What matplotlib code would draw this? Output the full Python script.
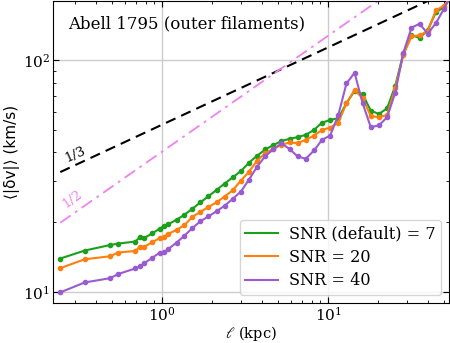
import numpy as np
import matplotlib
matplotlib.use("Agg")
import matplotlib.pyplot as plt
from matplotlib.lines import Line2D

plt.rcParams['font.family'] = ['DejaVu Serif']
plt.rcParams['mathtext.fontset'] = 'dejavuserif'

# scale (kpc)
ell = [0.2439, 0.3422, 0.4881, 0.5431, 0.6906, 0.7339, 0.7757, 0.8740, 0.9686, 1.028,
       1.087, 1.223, 1.362, 1.522, 1.701, 1.903, 2.130, 2.383, 2.667, 2.988,
       3.343, 3.741, 4.185, 4.690, 5.247, 5.870, 6.569, 7.349, 8.235, 9.215,
       10.31, 11.54, 12.92, 14.46, 16.18, 18.10, 20.29, 22.70, 25.40, 28.42,
       31.84, 35.63, 39.86, 44.67, 49.98, 55.93]

snr7 = [13.95, 15.10, 15.96, 16.18, 16.51, 17.22, 17.05, 17.92, 18.77, 19.25,
        19.58, 20.51, 21.51, 22.87, 24.34, 25.90, 27.56, 29.37, 31.24, 33.25,
        36.14, 38.73, 41.21, 43.05, 44.83, 45.81, 46.59, 47.66, 50.07, 53.81,
        55.27, 56.21, 65.20, 73.84, 71.26, 60.59, 58.64, 62.04, 77.35, 106.9,
        128.0, 125.1, 134.5, 161.2, 169.3, 190.0]

snr20 = [12.68, 13.85, 14.27, 14.81, 15.04, 15.65, 15.65, 16.39, 17.10, 17.34,
         17.79, 18.55, 19.39, 21.09, 22.16, 23.28, 24.38, 25.82, 27.49, 30.25,
         33.05, 36.86, 39.70, 41.50, 43.18, 44.18, 43.91, 45.37, 47.33, 50.07,
         51.22, 53.81, 65.20, 74.35, 68.48, 57.50, 56.76, 58.06, 75.60, 105.1,
         126.8, 128.0, 133.6, 163.9, 172.2, 190.0]

snr40 = [9.97, 11.00, 11.48, 11.95, 12.64, 12.89, 13.28, 14.04, 14.81, 14.85,
         15.30, 16.34, 17.48, 18.86, 20.17, 21.20, 22.31, 23.56, 25.24, 27.13,
         30.55, 34.74, 38.54, 41.29, 43.82, 41.37, 38.46, 37.59, 40.80, 45.37,
         47.33, 58.06, 79.43, 88.22, 65.20, 51.43, 52.35, 56.76, 72.40, 107.5,
         138.1, 143.7, 130.2, 144.6, 166.7, 195.0]

labels = ["SNR (default) = 7", "SNR = 20", "SNR = 40"]
colors = ["#1ba01b", "#ff7f0e", "#9b5bd0"]

# reference power laws
norm13 = 52.7
norm12 = 40.3
ref_x = [0.2439, 55.0]

fig = plt.figure(figsize=(4.5, 3.43), dpi=100)
ax = fig.add_axes([53/450, 40/343, 396.3/450, 302.5/343])

ax.set_xscale('log')
ax.set_yscale('log')
ax.set_xlim(0.2205, 53.8)
ax.set_ylim(8.97, 181.0)

ax.grid(True, which='major', color='#cccccc', lw=1.0, zorder=0)
ax.set_axisbelow(True)

xr = np.geomspace(ref_x[0], ref_x[1], 200)
ax.plot(xr, norm13 * xr**(1/3), color='black', ls=(0, (5, 3)), lw=1.5, zorder=2)
ax.plot(xr, norm12 * xr**(1/2), color='violet', ls=(0, (7, 3, 1.5, 3)), lw=1.3, zorder=2)

ax.text(0.302, 39.1, "1/3", rotation=24, ha='center', va='center', fontsize=9.5, color='black')
ax.text(0.29, 25.1, "1/2", rotation=36, ha='center', va='center', fontsize=9.5, color='violet')

for ys, c in zip([snr7, snr20, snr40], colors):
    ax.plot(ell, ys, color=c, lw=1.5, marker='o', ms=3, zorder=3)

handles = [Line2D([], [], color=c, lw=1.5) for c in colors]
ax.legend(handles, labels, loc='lower right', fontsize=11.6, handlelength=2.0,
          labelspacing=0.4, borderpad=0.35, handletextpad=0.7,
          frameon=True, framealpha=0.8, edgecolor='#cccccc', fancybox=True)

ax.text(0.038, 0.952, "Abell 1795 (outer filaments)", transform=ax.transAxes,
        ha='left', va='top', fontsize=12)

ax.tick_params(which='both', direction='in', top=True, right=True)
ax.tick_params(which='major', length=4, labelsize=11, pad=2.0)
ax.tick_params(which='minor', length=2)

ax.set_xlabel(r"$\ell$ (kpc)", fontsize=10.5, labelpad=0)
ax.set_ylabel("⟨|δv|⟩ (km/s)", fontsize=11, family=['DejaVu Sans'], labelpad=2)

fig.savefig("out.png", dpi=100)
